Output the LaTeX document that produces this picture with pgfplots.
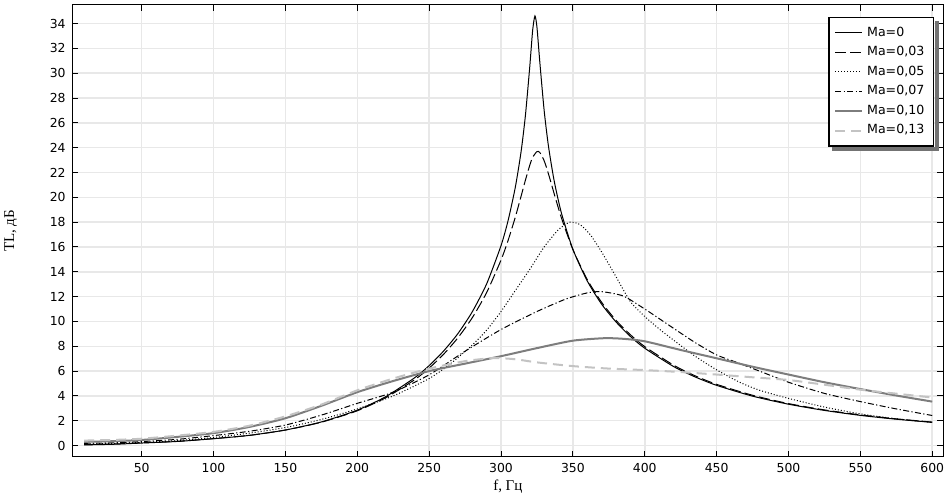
\documentclass[border=0pt]{standalone}
\usepackage{pgfplots}
\pgfplotsset{compat=1.18}
\usepackage{fontspec}
\usetikzlibrary{calc}
\newfontfamily\sansf{DejaVu Sans}
\newfontfamily\seriff{Liberation Serif}
\definecolor{gridgray}{RGB}{232,232,232}
\definecolor{gmid}{RGB}{125,125,125}
\definecolor{glight}{RGB}{195,195,195}
\begin{document}
\begin{tikzpicture}
\path[use as bounding box] (-36.35pt,-19.65pt) rectangle (436.15pt,228.35pt);
\begin{axis}[
  at={(0,0)}, anchor=south west,
  width=435.15pt, height=225.85pt, scale only axis,
  xmin=2, xmax=607.5, ymin=-0.9, ymax=35.5,
  xtick={50,100,...,600}, ytick={0,2,...,34},
  tick align=inside, tick pos=both,
  major tick length=2.8pt,
  grid=major, major grid style={color=gridgray, line width=0.75pt},
  axis line style={line width=0.5pt},
  tick style={black, line width=0.5pt},
  ticklabel style={font=\sansf\fontsize{6.2}{7}\selectfont},
  /pgf/number format/assume math mode=true,
  /pgf/number format/1000 sep={},
  xlabel={f, Гц}, ylabel={TL, дБ},
  every axis x label/.style={at={(axis description cs:0.5,0)}, yshift=-15pt, anchor=center, font=\seriff\fontsize{7.5}{9}\selectfont},
  every axis y label/.style={at={(axis description cs:0,0.5)}, xshift=-31pt, rotate=90, anchor=center, font=\seriff\fontsize{7.5}{9}\selectfont},
  legend cell align=left,
  legend style={name=leg, at={(0.9897,0.9734)}, anchor=north east, draw=black, line width=0.7pt, fill=white,
    font=\sansf\fontsize{6.3}{7}\selectfont, row sep=-0.4pt, inner sep=2.5pt},
  legend image code/.code={\draw[#1] (0pt,0pt) -- (13.5pt,0pt);},
  every axis plot/.append style={smooth, tension=0.4},
]
\addplot[black, line width=0.5pt] coordinates {(10,0.05) (30,0.1) (50,0.2) (75,0.33) (100,0.55) (125,0.82) (150,1.25) (175,1.9) (200,2.85) (220,3.95) (240,5.47) (250,6.44) (260,7.61) (270,9.02) (280,10.78) (290,13.03) (300,16.11) (305,18.17) (310,20.85) (314,23.72) (317,26.64) (320,30.54) (322,33.46) (323.6,34.62) (325,33.71) (327,30.88) (330,27.0) (333,24.12) (337,21.31) (342,18.74) (350,15.81) (360,13.26) (370,11.39) (380,9.96) (390,8.79) (400,7.84) (420,6.37) (435,5.53) (450,4.85) (475,3.98) (500,3.33) (525,2.83) (550,2.43) (575,2.12) (600,1.87)};
\addlegendentry{Ma=0}
\addplot[black, line width=0.5pt, dash pattern=on 5.5pt off 2pt] coordinates {(10,0.07) (30,0.12) (50,0.22) (75,0.34) (100,0.56) (125,0.82) (150,1.25) (175,1.88) (200,2.8) (220,3.87) (240,5.31) (250,6.24) (260,7.35) (270,8.68) (280,10.3) (290,12.33) (300,14.95) (305,16.56) (310,18.43) (314,20.11) (317,21.4) (320,22.59) (322,23.22) (325,23.69) (327,23.61) (330,22.95) (333,21.89) (337,20.28) (342,18.35) (350,15.79) (360,13.37) (370,11.54) (380,10.09) (390,8.93) (400,7.97) (420,6.48) (435,5.62) (450,4.93) (475,4.05) (500,3.38) (525,2.87) (550,2.47) (575,2.15) (600,1.89)};
\addlegendentry{Ma=0,03}
\addplot[black, line width=0.5pt, dash pattern=on 0.5pt off 1pt] coordinates {(10,0.12) (30,0.17) (50,0.25) (75,0.4) (100,0.65) (125,1.0) (150,1.45) (175,2.1) (200,2.95) (225,4.0) (250,5.4) (265,6.6) (280,8.1) (290,9.3) (300,10.8) (310,12.5) (320,14.2) (330,16.0) (340,17.4) (348,18.0) (355,17.8) (362,17.0) (370,15.6) (380,13.6) (390,11.6) (400,10.4) (410,9.4) (420,8.5) (435,7.2) (450,6.1) (466,5.1) (480,4.45) (500,3.8) (525,3.1) (550,2.55) (575,2.15) (600,1.86)};
\addlegendentry{Ma=0,05}
\addplot[black, line width=0.5pt, dash pattern=on 3pt off 1.2pt on 0.6pt off 1.2pt] coordinates {(10,0.18) (30,0.22) (50,0.32) (75,0.5) (100,0.8) (125,1.15) (150,1.65) (175,2.45) (200,3.4) (225,4.3) (250,5.7) (275,7.6) (300,9.35) (325,10.8) (345,11.8) (360,12.3) (370,12.4) (385,12.05) (400,11.0) (420,9.45) (435,8.3) (450,7.3) (464,6.7) (482,5.9) (500,5.1) (525,4.2) (550,3.54) (575,2.95) (600,2.42)};
\addlegendentry{Ma=0,07}
\addplot[gmid, line width=1pt] coordinates {(10,0.3) (30,0.35) (50,0.45) (75,0.7) (100,1.0) (125,1.5) (150,2.2) (175,3.2) (200,4.3) (225,5.2) (250,6.0) (275,6.6) (300,7.2) (325,7.85) (350,8.45) (372,8.65) (385,8.6) (400,8.4) (425,7.7) (450,7.03) (475,6.35) (500,5.72) (525,5.1) (550,4.55) (575,4.03) (600,3.54)};
\addlegendentry{Ma=0,10}
\addplot[glight, line width=1pt, dash pattern=on 5pt off 3pt] coordinates {(10,0.4) (30,0.45) (50,0.55) (75,0.8) (100,1.1) (125,1.6) (150,2.35) (175,3.3) (200,4.45) (225,5.4) (250,6.2) (275,6.8) (295,7.05) (310,6.95) (325,6.7) (350,6.4) (375,6.2) (400,6.08) (425,5.92) (450,5.72) (475,5.5) (500,5.28) (525,4.9) (550,4.5) (575,4.18) (600,3.87)};
\addlegendentry{Ma=0,13}
\end{axis}
\fill[black!55] ($(leg.south west)+(2pt,-2.35pt)$) rectangle ($(leg.south east)+(2.35pt,-0.35pt)$);
\fill[black!55] ($(leg.south east)+(0.35pt,-2.35pt)$) rectangle ($(leg.north east)+(2.35pt,-2pt)$);
\end{tikzpicture}
\end{document}
